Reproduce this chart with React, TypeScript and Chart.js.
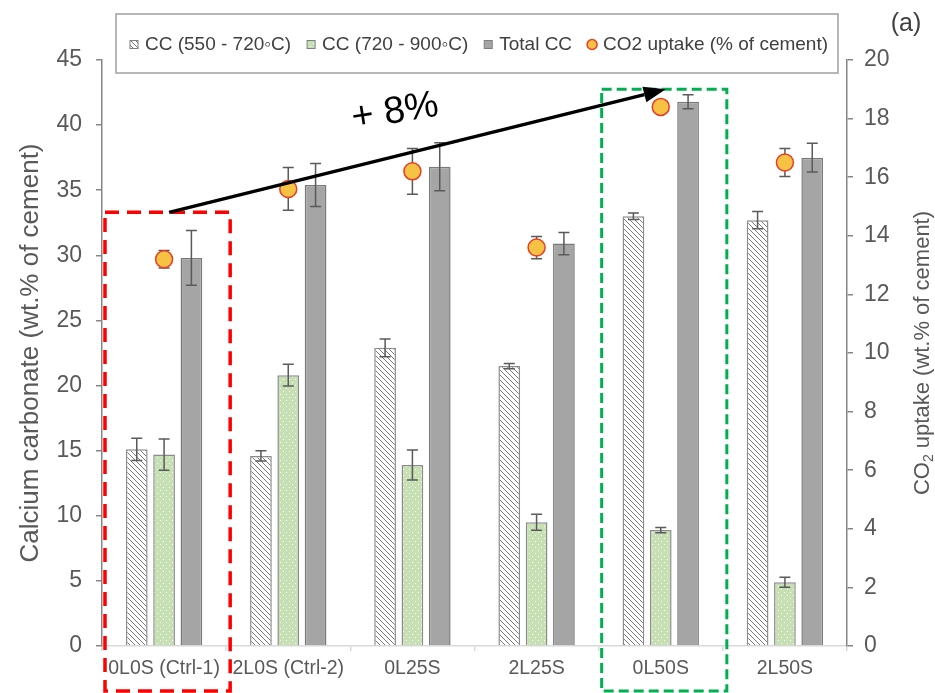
import React, { useEffect, useRef } from 'react';
import { Chart, registerables } from 'chart.js';

Chart.register(...registerables);

const FONT = "'Liberation Sans', Arial, sans-serif";

// ---- data ----
const categories = ['0L0S (Ctrl-1)', '2L0S (Ctrl-2)', '0L25S', '2L25S', '0L50S', '2L50S'];
const cc550 = [15.1, 14.6, 22.9, 21.5, 33.0, 32.7];
const cc550Err = [0.85, 0.4, 0.68, 0.2, 0.25, 0.66];
const cc720 = [14.7, 20.8, 13.9, 9.5, 8.9, 4.9];
const cc720Err = [1.2, 0.83, 1.15, 0.62, 0.2, 0.38];
const totalCC = [29.8, 35.4, 36.8, 30.9, 41.8, 37.5];
const totalErr = [2.1, 1.65, 1.85, 0.86, 0.54, 1.1];
const co2Uptake = [13.2, 15.6, 16.2, 13.6, 18.4, 16.5];
const co2Err = [0.3, 0.73, 0.78, 0.38, 0, 0.48];

const seriesLabels = ['CC (550 - 720\u25E6C)', 'CC (720 - 900\u25E6C)', 'Total CC', 'CO2 uptake (% of cement)'];
const leftTicks = { min: 0, max: 45, step: 5 };
const rightTicks = { min: 0, max: 20, step: 2 };
const leftTitle = 'Calcium carbonate (wt.% of cement)';
const rightTitle = ['CO', '2', ' uptake (wt.% of cement)'];

// annotations (category index + value on left axis)
const highlightIdx = [0, 4];
const highlightTop = [33.3, 42.75];
const highlightColor = ['#ff0000', '#00b050'];
const arrowFrom = { idx: 0, value: 33.3 };
const arrowTo = { idx: 4, value: 42.75 };
const arrowText = '+ 8%';
const arrowTextPos = { idx: 1.86, value: 41.0 };
const panelLabel = '(a)';

function makeHatch(): CanvasPattern {
  const c = document.createElement('canvas');
  c.width = 5; c.height = 5;
  const g = c.getContext('2d')!;
  g.fillStyle = '#ffffff';
  g.fillRect(0, 0, 5, 5);
  g.strokeStyle = '#7a7a7a';
  g.lineWidth = 1;
  g.beginPath();
  g.moveTo(-1, -1); g.lineTo(6, 6);
  g.moveTo(-1, 4); g.lineTo(1, 6);
  g.moveTo(4, -1); g.lineTo(6, 1);
  g.stroke();
  return g.createPattern(c, 'repeat')!;
}

function makeDots(): CanvasPattern {
  const c = document.createElement('canvas');
  c.width = 6; c.height = 6;
  const g = c.getContext('2d')!;
  g.fillStyle = '#c6e0b4';
  g.fillRect(0, 0, 6, 6);
  g.fillStyle = '#ffffff';
  g.fillRect(1, 1, 1, 1);
  g.fillRect(4, 4, 1, 1);
  return g.createPattern(c, 'repeat')!;
}

function drawErr(ctx: CanvasRenderingContext2D, x: number, yTop: number, yBot: number, half: number) {
  ctx.beginPath();
  ctx.moveTo(x, yTop); ctx.lineTo(x, yBot);
  ctx.moveTo(x - half, yTop); ctx.lineTo(x + half, yTop);
  ctx.moveTo(x - half, yBot); ctx.lineTo(x + half, yBot);
  ctx.stroke();
}

export default function App() {
  const ref = useRef<HTMLCanvasElement>(null);

  useEffect(() => {
    const canvas = ref.current!;
    const hatch = makeHatch();
    const dots = makeDots();
    const errs = [cc550Err, cc720Err, totalErr, co2Err];

    const idxPx = (chart: any, i: number) => {
      const x = chart.scales.x;
      const p0 = x.getPixelForValue(0);
      const p1 = x.getPixelForValue(1);
      return p0 + (p1 - p0) * i;
    };

    const decor = {
      id: 'decor',
      beforeDatasetsDraw(chart: any) {
        const ctx = chart.ctx;
        ctx.save();
        ctx.strokeStyle = '#5a5a5a';
        ctx.lineWidth = 1.5;
        const meta = chart.getDatasetMeta(3);
        const sc = chart.scales.y1;
        meta.data.forEach((el: any, j: number) => {
          const v = co2Uptake[j], e = errs[3][j];
          if (!e) return;
          drawErr(ctx, el.x, sc.getPixelForValue(v + e), sc.getPixelForValue(v - e), 5.5);
        });
        ctx.restore();
      },
      afterDatasetsDraw(chart: any) {
        const ctx = chart.ctx;
        ctx.save();
        ctx.strokeStyle = '#5a5a5a';
        ctx.lineWidth = 1.5;
        [0, 1, 2].forEach((d) => {
          const meta = chart.getDatasetMeta(d);
          const vals = chart.data.datasets[d].data as number[];
          const sc = chart.scales.y;
          meta.data.forEach((el: any, j: number) => {
            const v = vals[j], e = errs[d][j];
            drawErr(ctx, el.x, sc.getPixelForValue(v + e), sc.getPixelForValue(v - e), 5.5);
          });
        });
        ctx.restore();
      },
      afterDraw(chart: any) {
        const ctx: CanvasRenderingContext2D = chart.ctx;
        const area = chart.chartArea;
        const ys = chart.scales.y;
        const catW = idxPx(chart, 1) - idxPx(chart, 0);
        ctx.save();

        // axis titles
        ctx.fillStyle = '#595959';
        ctx.textAlign = 'center';
        ctx.textBaseline = 'middle';
        ctx.font = `26px ${FONT}`;
        const cy = (area.top + area.bottom) / 2;
        ctx.save();
        ctx.translate(31, cy);
        ctx.rotate(-Math.PI / 2);
        ctx.fillText(leftTitle, 0, 0);
        ctx.restore();

        ctx.save();
        ctx.translate(area.right + 76, cy);
        ctx.rotate(-Math.PI / 2);
        ctx.textAlign = 'left';
        ctx.font = `22px ${FONT}`;
        const w0 = ctx.measureText(rightTitle[0]).width;
        const w2 = ctx.measureText(rightTitle[2]).width;
        ctx.font = `14px ${FONT}`;
        const w1 = ctx.measureText(rightTitle[1]).width;
        let sx = -(w0 + w1 + w2) / 2;
        ctx.font = `22px ${FONT}`;
        ctx.fillText(rightTitle[0], sx, 0);
        sx += w0;
        ctx.font = `14px ${FONT}`;
        ctx.fillText(rightTitle[1], sx, 6);
        sx += w1;
        ctx.font = `22px ${FONT}`;
        ctx.fillText(rightTitle[2], sx, 0);
        ctx.restore();

        // highlight boxes
        highlightIdx.forEach((i, k) => {
          const c = idxPx(chart, i);
          const l = c - catW / 2 + 3;
          const r = c + catW / 2 + 4;
          const t = ys.getPixelForValue(highlightTop[k]);
          const b = area.bottom + 45;
          ctx.save();
          ctx.strokeStyle = highlightColor[k];
          ctx.lineWidth = k === 0 ? 3.5 : 3;
          ctx.setLineDash(k === 0 ? [14, 8] : [10, 5]);
          ctx.strokeRect(l, t, r - l, b - t);
          ctx.restore();
        });

        // arrow
        const x1 = idxPx(chart, arrowFrom.idx) + 5;
        const y1 = ys.getPixelForValue(arrowFrom.value);
        const x2 = idxPx(chart, arrowTo.idx) + 5;
        const y2 = ys.getPixelForValue(arrowTo.value);
        const ang = Math.atan2(y2 - y1, x2 - x1);
        const hl = 22, hw = 8;
        const bx = x2 - hl * Math.cos(ang), by = y2 - hl * Math.sin(ang);
        ctx.strokeStyle = '#000';
        ctx.fillStyle = '#000';
        ctx.lineWidth = 3.5;
        ctx.beginPath();
        ctx.moveTo(x1, y1);
        ctx.lineTo(bx, by);
        ctx.stroke();
        ctx.beginPath();
        ctx.moveTo(x2, y2);
        ctx.lineTo(bx + hw * Math.sin(ang), by - hw * Math.cos(ang));
        ctx.lineTo(bx - hw * Math.sin(ang), by + hw * Math.cos(ang));
        ctx.closePath();
        ctx.fill();

        // arrow text
        ctx.save();
        ctx.translate(idxPx(chart, arrowTextPos.idx), ys.getPixelForValue(arrowTextPos.value));
        ctx.rotate(-9 * Math.PI / 180);
        ctx.font = `38px ${FONT}`;
        ctx.textAlign = 'center';
        ctx.textBaseline = 'middle';
        ctx.fillStyle = '#000';
        ctx.fillText(arrowText, 0, 0);
        ctx.restore();

        // panel label
        ctx.font = `25px ${FONT}`;
        ctx.fillStyle = '#404040';
        ctx.textAlign = 'center';
        ctx.textBaseline = 'middle';
        ctx.fillText(panelLabel, 906, 24);

        // legend
        const lx0 = area.left + 14, lx1 = area.right - 9;
        const ly0 = 14, ly1 = 73;
        ctx.fillStyle = '#fff';
        ctx.fillRect(lx0, ly0, lx1 - lx0, ly1 - ly0);
        ctx.strokeStyle = '#a0a0a0';
        ctx.lineWidth = 1.5;
        ctx.setLineDash([]);
        ctx.strokeRect(lx0, ly0, lx1 - lx0, ly1 - ly0);
        ctx.font = `19px ${FONT}`;
        const icon = 8, gap = 7, itemGap = 16;
        const widths = seriesLabels.map((s) => ctx.measureText(s).width);
        const total = widths.reduce((a, b) => a + b, 0) + 4 * (icon + gap) + 3 * itemGap;
        let lx = (lx0 + lx1) / 2 - total / 2 + 2;
        const lyc = (ly0 + ly1) / 2 + 1;
        const fills: any[] = [hatch, dots, '#a5a5a5'];
        seriesLabels.forEach((s, k) => {
          if (k < 3) {
            ctx.fillStyle = fills[k];
            ctx.fillRect(lx, lyc - icon / 2, icon, icon);
            ctx.strokeStyle = '#7f7f7f';
            ctx.lineWidth = 1;
            ctx.strokeRect(lx, lyc - icon / 2, icon, icon);
          } else {
            ctx.beginPath();
            ctx.arc(lx + icon / 2, lyc, 5, 0, Math.PI * 2);
            ctx.fillStyle = '#f6c244';
            ctx.fill();
            ctx.strokeStyle = '#ea3c26';
            ctx.lineWidth = 1.5;
            ctx.stroke();
          }
          ctx.fillStyle = '#404040';
          ctx.textAlign = 'left';
          ctx.textBaseline = 'middle';
          ctx.fillText(s, lx + icon + gap, lyc);
          lx += icon + gap + widths[k] + itemGap;
        });

        ctx.restore();
      },
    };

    const chart = new Chart(canvas, {
      type: 'bar',
      data: {
        labels: categories,
        datasets: [
          { label: seriesLabels[0], data: cc550, backgroundColor: hatch as any, borderColor: '#8c8c8c', borderWidth: 1.5, yAxisID: 'y' },
          { label: seriesLabels[1], data: cc720, backgroundColor: dots as any, borderColor: '#8c8c8c', borderWidth: 1.5, yAxisID: 'y' },
          { label: seriesLabels[2], data: totalCC, backgroundColor: '#a5a5a5', borderColor: '#7a7a7a', borderWidth: 1.5, yAxisID: 'y' },
          {
            type: 'line' as any, label: seriesLabels[3], data: co2Uptake, yAxisID: 'y1', showLine: false,
            pointRadius: 8.5, pointBackgroundColor: '#f6c244', pointBorderColor: '#ea3c26', pointBorderWidth: 1.5,
            order: -1,
          } as any,
        ],
      },
      options: {
        responsive: false,
        devicePixelRatio: 1,
        animation: false,
        layout: { padding: { top: 60, left: 0, right: 0, bottom: 0 } },
        datasets: { bar: { categoryPercentage: 0.66, barPercentage: 0.795 } } as any,
        plugins: { legend: { display: false }, tooltip: { enabled: false }, title: { display: false } },
        scales: {
          x: {
            grid: { display: true, drawOnChartArea: false, color: '#d9d9d9', tickLength: 5, offset: true, lineWidth: 1.5 },
            border: { display: true, color: '#d9d9d9', width: 1.5 },
            ticks: { color: '#595959', font: { family: FONT, size: 19.5 }, padding: 6, maxRotation: 0, autoSkip: false },
            afterFit: (s: any) => { s.height = 47; },
          },
          y: {
            position: 'left',
            min: leftTicks.min, max: leftTicks.max,
            grid: { display: true, drawOnChartArea: false, color: '#868686', tickLength: 6, lineWidth: 1.5 },
            border: { display: true, color: '#868686', width: 1.5 },
            ticks: { stepSize: leftTicks.step, color: '#595959', font: { family: FONT, size: 23 }, padding: 14 },
            afterFit: (s: any) => { s.width = 102; },
          },
          y1: {
            position: 'right',
            min: rightTicks.min, max: rightTicks.max,
            grid: { display: true, drawOnChartArea: false, color: '#868686', tickLength: 6, lineWidth: 1.5 },
            border: { display: true, color: '#868686', width: 1.5 },
            ticks: { stepSize: rightTicks.step, color: '#595959', font: { family: FONT, size: 23 }, padding: 11 },
            afterFit: (s: any) => { s.width = 88; },
          },
        },
      },
      plugins: [decor],
    });

    return () => chart.destroy();
  }, []);

  return (
    <div style={{ position: 'absolute', left: 0, top: 0, width: 935, height: 693, background: '#fff' }}>
      <canvas ref={ref} width={935} height={693} style={{ display: 'block' }} />
    </div>
  );
}
